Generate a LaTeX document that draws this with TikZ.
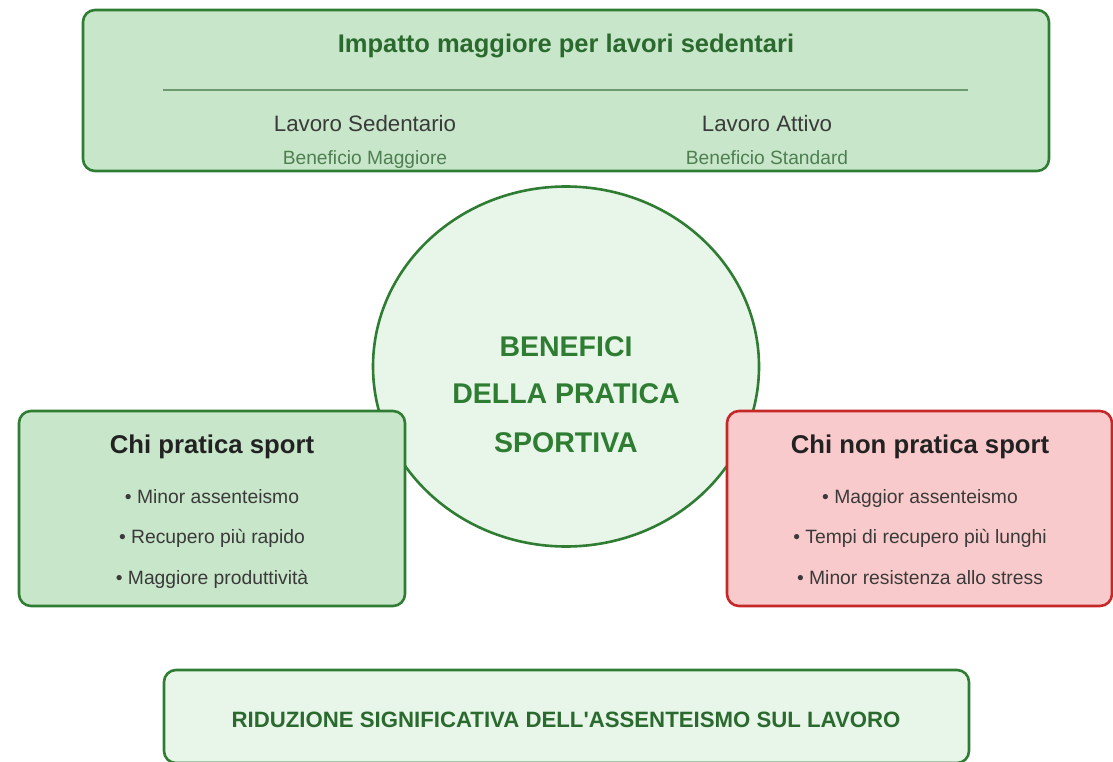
\documentclass[tikz,border=0pt]{standalone}
\usepackage{fontspec}
\setmainfont{Liberation Sans}
\newfontfamily\plainsans{Liberation Sans}
\definecolor{gborder}{HTML}{2E7D32}
\definecolor{gfill}{HTML}{C8E6C9}
\definecolor{glight}{HTML}{E8F5E9}
\definecolor{rborder}{HTML}{C62828}
\definecolor{rfill}{HTML}{F9CACB}
\definecolor{gtext}{HTML}{2E7D32}
\definecolor{gdark}{HTML}{2B6A2E}
\definecolor{gsoft}{HTML}{4E7F51}
\definecolor{divider}{HTML}{6E9A70}
\definecolor{bodytext}{HTML}{3A3A3A}
\definecolor{headtext}{HTML}{222222}
\tikzset{
  panel/.style={draw=gborder, fill=gfill, line width=2.6pt, rounded corners=12pt},
  redpanel/.style={draw=rborder, fill=rfill, line width=2.6pt, rounded corners=12pt},
  lightpanel/.style={draw=gborder, fill=glight, line width=2.6pt, rounded corners=12pt},
  txt/.style={anchor=mid, inner sep=0pt},
  toptitle/.style={txt, font=\fontsize{25.5}{28}\selectfont\bfseries, text=gdark},
  colhead/.style={txt, font=\fontsize{22.3}{26}\selectfont, text=bodytext},
  colsub/.style={txt, font=\fontsize{19.2}{22}\selectfont, text=gsoft},
  boxtitle/.style={txt, font=\fontsize{25.7}{29}\selectfont\bfseries, text=headtext},
  bullet/.style={txt, font=\fontsize{19.3}{22}\selectfont, text=bodytext},
  circtext/.style={txt, font=\fontsize{28.5}{32}\selectfont\bfseries, text=gtext},
  bottomtext/.style={txt, font=\plainsans\fontsize{22.2}{26}\selectfont\bfseries, text=gdark},
}
\begin{document}
\begin{tikzpicture}[x=1pt, y=-1pt]
\useasboundingbox (0,0) rectangle (1113,762);
\begin{scope}
\clip (0,0) rectangle (1113,762);
% top panel
\draw[panel] (83,10) rectangle (1049,171);
\node[toptitle] (toptitle) at (566,49.5) {Impatto maggiore per lavori sedentari};
\coordinate (divl) at (163,90);
\coordinate (divr) at (968,90);
\draw[divider, line width=2pt] (divl) -- (divr);
\node[colhead] (sed) at (365,129) {Lavoro Sedentario};
\node[colsub] (sedsub) at (365,161.5) {Beneficio Maggiore};
\node[colhead] (att) at (767,129) {Lavoro Attivo};
\node[colsub] (attsub) at (767,161.5) {Beneficio Standard};
% circle
\draw[draw=gborder, fill=glight, line width=2.6pt] (566,366.5) ellipse [x radius=193, y radius=180];
\node[circtext] (c1) at (566,353.5) {BENEFICI};
\node[circtext] (c2) at (566,400.5) {DELLA PRATICA};
\node[circtext] (c3) at (566,449.5) {SPORTIVA};
% left panel
\draw[panel] (19,411) rectangle (405,606);
\node[boxtitle] (lt) at (212,450.5) {Chi pratica sport};
\node[bullet] (l1) at (212,500.5) {• Minor assenteismo};
\node[bullet] (l2) at (212,540.5) {• Recupero più rapido};
\node[bullet] (l3) at (212,581.5) {• Maggiore produttività};
% right panel
\draw[redpanel] (727,411) rectangle (1112,606);
\node[boxtitle] (rt) at (920,450.5) {Chi non pratica sport};
\node[bullet] (r1) at (920,500.5) {• Maggior assenteismo};
\node[bullet] (r2) at (920,540.5) {• Tempi di recupero più lunghi};
\node[bullet] (r3) at (920,581.5) {• Minor resistenza allo stress};
% bottom panel
\draw[lightpanel] (164,670) rectangle (969,763);
\node[bottomtext] (bt) at (566,725) {RIDUZIONE SIGNIFICATIVA DELL'ASSENTEISMO SUL LAVORO};
\end{scope}
\end{tikzpicture}
\end{document}
